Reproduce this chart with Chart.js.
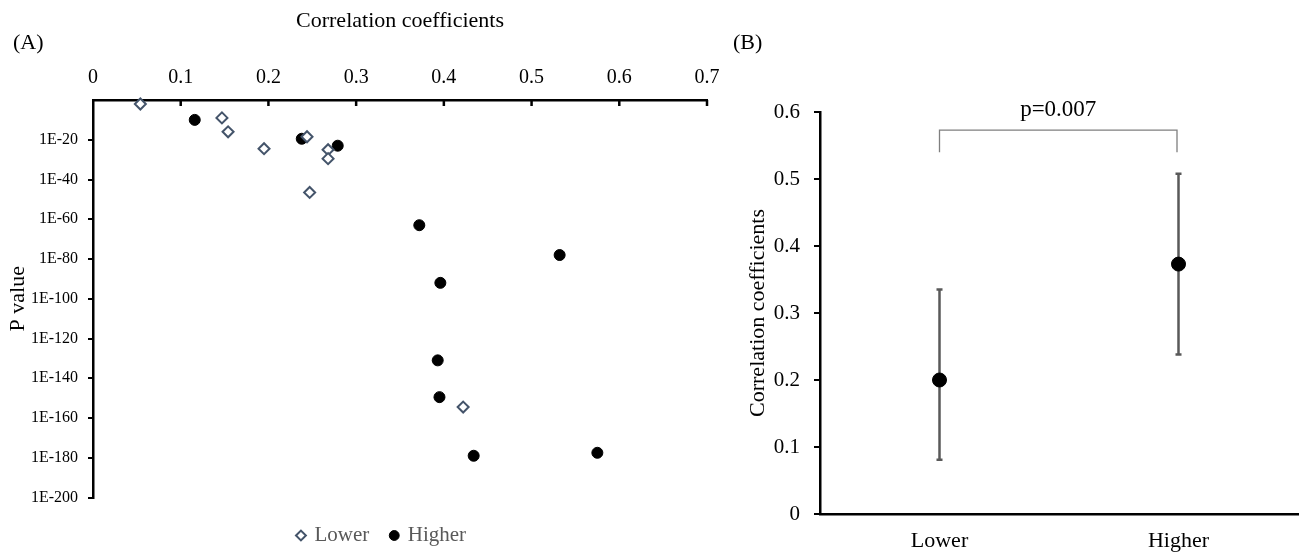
<!DOCTYPE html>
<html>
<head>
<meta charset="utf-8">
<title>Correlation coefficients</title>
<script src="https://cdn.jsdelivr.net/npm/chart.js@4.4.1/dist/chart.umd.min.js"></script>
<style>
    body {
        margin: 0;
        background: #fff;
        width: 1311px;
        height: 552px;
        position: relative;
        overflow: hidden;
        font-family: "Liberation Serif", "Times New Roman", serif;
    }
    #chartA { position: absolute; left: 0; top: 0; }
    #chartB { position: absolute; left: 720px; top: 0; }
    .panel-tag {
        position: absolute;
        font-size: 22px;
        line-height: 24px;
        color: #000;
    }
</style>
</head>
<body>
<canvas id="chartA" width="764" height="552"></canvas>
<canvas id="chartB" width="591" height="552"></canvas>
<div class="panel-tag" style="left:13px; top:30px;">(A)</div>
<div class="panel-tag" style="left:733px; top:30px;">(B)</div>

<script>
// Panel A data: correlation coefficient vs. log10(P value)
const lowerR = [0.054, 0.147, 0.154, 0.195, 0.244, 0.268, 0.268, 0.247, 0.422];
const lowerLogP = [-2, -9, -16, -24.5, -18.5, -25, -29.5, -46.5, -154.5];
const higherR = [0.116, 0.238, 0.279, 0.372, 0.532, 0.396, 0.393, 0.395, 0.434, 0.575];
const higherLogP = [-10, -19.5, -23, -63, -78, -92, -131, -149.5, -179, -177.5];

// Panel A tick labels
const corrTicks = ['0', '0.1', '0.2', '0.3', '0.4', '0.5', '0.6', '0.7'];
const pTickExps = [0, -20, -40, -60, -80, -100, -120, -140, -160, -180, -200];
const pTickLabels = ['', '1E-20', '1E-40', '1E-60', '1E-80', '1E-100', '1E-120', '1E-140', '1E-160', '1E-180', '1E-200'];

// Panel B data: mean correlation with range
const groups = ['Lower', 'Higher'];
const groupMeans = [0.200, 0.373];
const groupLow = [0.081, 0.238];
const groupHigh = [0.335, 0.508];
const coefTicks = ['0', '0.1', '0.2', '0.3', '0.4', '0.5', '0.6'];
const pLabel = 'p=0.007';
const bracketTop = 0.573;
const bracketLeg = 0.540;
const pLabelLevel = 0.603;

Chart.defaults.font.family = '"Liberation Serif", "Times New Roman", serif';
Chart.defaults.color = '#000';

// Inward tick marks for the top axis of panel A
const topTicksPlugin = {
    id: 'topTicks',
    afterDraw(chart) {
        const ctx = chart.ctx;
        const x = chart.scales.x;
        ctx.save();
        ctx.strokeStyle = '#000';
        ctx.lineWidth = 2.5;
        ctx.beginPath();
        x.ticks.forEach(t => {
            if (t.value === 0) return;
            const px = x.getPixelForValue(t.value);
            ctx.moveTo(px, x.bottom);
            ctx.lineTo(px, x.bottom + 6);
        });
        ctx.stroke();
        ctx.restore();
    }
};

// Scatter: correlation coefficients vs P value
function initScatterChart() {
    const ctx = document.getElementById('chartA');
    if (!ctx) return;

    const lowerPoints = lowerR.map((r, i) => ({ x: r, y: lowerLogP[i] }));
    const higherPoints = higherR.map((r, i) => ({ x: r, y: higherLogP[i] }));

    new Chart(ctx, {
        type: 'scatter',
        data: {
            datasets: [{
                label: 'Lower',
                data: lowerPoints,
                pointStyle: 'rectRot',
                pointRadius: 5.5,
                pointBorderWidth: 2,
                borderWidth: 2,
                borderColor: '#44546A',
                backgroundColor: '#fff',
                clip: false
            }, {
                label: 'Higher',
                data: higherPoints,
                pointStyle: 'circle',
                pointRadius: 5.5,
                borderWidth: 1,
                borderColor: '#000',
                backgroundColor: '#000',
                clip: false
            }]
        },
        options: {
            responsive: false,
            animation: false,
            devicePixelRatio: 1,
            layout: { padding: { left: 0, right: 0, top: 0, bottom: -4 } },
            plugins: {
                tooltip: { enabled: false },
                legend: {
                    position: 'bottom',
                    title: { display: true, text: '', font: { size: 1, lineHeight: 1 }, padding: { top: 4.5, bottom: 0 } },
                    labels: {
                        usePointStyle: true,
                        boxWidth: 6,
                        boxHeight: 7,
                        padding: 22,
                        color: '#595959',
                        font: { size: 21 }
                    }
                }
            },
            scales: {
                x: {
                    type: 'linear',
                    position: 'top',
                    min: 0,
                    max: 0.7,
                    afterFit: s => { s.height = 100; },
                    grid: { display: false },
                    border: { display: true, color: '#000', width: 2.5 },
                    ticks: {
                        stepSize: 0.1,
                        autoSkip: false,
                        maxRotation: 0,
                        padding: 2.5,
                        font: { size: 20 },
                        callback: value => corrTicks[Math.round(value * 10)]
                    },
                    title: {
                        display: true,
                        text: 'Correlation coefficients',
                        font: { size: 22 },
                        padding: { top: 8.5, bottom: 0 }
                    }
                },
                y: {
                    type: 'linear',
                    min: -200,
                    max: 0,
                    afterFit: s => { s.width = 93; },
                    grid: {
                        display: true,
                        drawOnChartArea: false,
                        drawTicks: true,
                        tickLength: 5,
                        lineWidth: 2,
                        color: c => (c.tick && c.tick.value === 0) ? 'rgba(0,0,0,0)' : '#000'
                    },
                    border: { display: true, color: '#000', width: 2.5 },
                    ticks: {
                        stepSize: 20,
                        autoSkip: false,
                        padding: 10,
                        font: { size: 16 },
                        callback: value => pTickLabels[pTickExps.indexOf(value)]
                    },
                    title: {
                        display: true,
                        text: 'P value',
                        font: { size: 22 },
                        padding: { top: 5, bottom: 0 }
                    }
                },
                // empty right axis, only keeps the plot width
                yR: {
                    type: 'linear',
                    position: 'right',
                    display: true,
                    afterFit: s => { s.width = 57; },
                    grid: { display: false },
                    border: { display: false },
                    ticks: { display: false }
                }
            }
        },
        plugins: [topTicksPlugin]
    });
}

// Error bars and the significance bracket for panel B
const errorBarsPlugin = {
    id: 'errorBars',
    beforeDatasetsDraw(chart) {
        const { ctx, scales: { x, y } } = chart;
        ctx.save();
        ctx.strokeStyle = '#595959';
        ctx.lineWidth = 2.5;
        ctx.beginPath();
        groups.forEach((g, i) => {
            const px = x.getPixelForValue(i);
            const top = y.getPixelForValue(groupHigh[i]);
            const bottom = y.getPixelForValue(groupLow[i]);
            ctx.moveTo(px, top);
            ctx.lineTo(px, bottom);
            ctx.moveTo(px - 3, top);
            ctx.lineTo(px + 3, top);
            ctx.moveTo(px - 3, bottom);
            ctx.lineTo(px + 3, bottom);
        });
        ctx.stroke();
        ctx.restore();
    },
    afterDatasetsDraw(chart) {
        const { ctx, scales: { x, y } } = chart;
        const x1 = x.getPixelForValue(0);
        const x2 = x.getPixelForValue(1) - 1.5;
        const yTop = y.getPixelForValue(bracketTop);
        const yLeg = y.getPixelForValue(bracketLeg);
        ctx.save();
        ctx.strokeStyle = '#7f7f7f';
        ctx.lineWidth = 1.3;
        ctx.beginPath();
        ctx.moveTo(x1, yLeg);
        ctx.lineTo(x1, yTop);
        ctx.lineTo(x2, yTop);
        ctx.lineTo(x2, yLeg);
        ctx.stroke();
        ctx.fillStyle = '#000';
        ctx.font = '23px "Liberation Serif", "Times New Roman", serif';
        ctx.textAlign = 'center';
        ctx.textBaseline = 'middle';
        ctx.fillText(pLabel, (x1 + x2) / 2, y.getPixelForValue(pLabelLevel));
        ctx.restore();
    }
};

// Mean correlation coefficient per group
function initGroupChart() {
    const ctx = document.getElementById('chartB');
    if (!ctx) return;

    new Chart(ctx, {
        type: 'line',
        data: {
            labels: groups,
            datasets: [{
                label: 'Correlation coefficients',
                data: groupMeans,
                showLine: false,
                pointStyle: 'circle',
                pointRadius: 7,
                borderColor: '#000',
                backgroundColor: '#000',
                clip: false
            }]
        },
        options: {
            responsive: false,
            animation: false,
            devicePixelRatio: 1,
            layout: { padding: { left: 0, right: 13, top: 112, bottom: 0 } },
            plugins: {
                legend: { display: false },
                tooltip: { enabled: false }
            },
            scales: {
                x: {
                    type: 'category',
                    offset: true,
                    afterFit: s => { s.height = 38; },
                    grid: { display: false },
                    border: { display: true, color: '#000', width: 2.5 },
                    ticks: {
                        padding: 6,
                        font: { size: 22 }
                    }
                },
                y: {
                    type: 'linear',
                    min: 0,
                    max: 0.6,
                    afterFit: s => { s.width = 100; },
                    grid: {
                        display: true,
                        drawOnChartArea: false,
                        drawTicks: true,
                        tickLength: 6,
                        lineWidth: 2,
                        color: '#000'
                    },
                    border: { display: true, color: '#000', width: 2.5 },
                    ticks: {
                        stepSize: 0.1,
                        autoSkip: false,
                        padding: 14,
                        font: { size: 21 },
                        callback: value => coefTicks[Math.round(value * 10)]
                    },
                    title: {
                        display: true,
                        text: 'Correlation coefficients',
                        font: { size: 22 },
                        padding: { top: 25, bottom: 0 }
                    }
                }
            }
        },
        plugins: [errorBarsPlugin]
    });
}

document.addEventListener('DOMContentLoaded', function() {
    initScatterChart();
    initGroupChart();
});
</script>
</body>
</html>
